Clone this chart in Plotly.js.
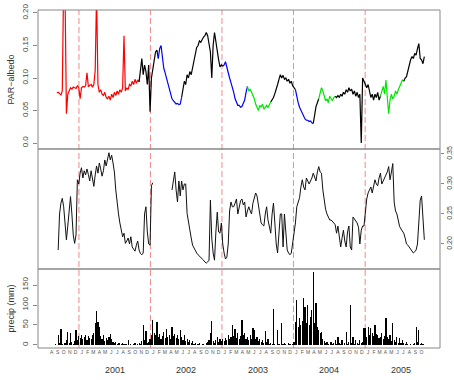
<!DOCTYPE html>
<html>
<head>
<meta charset="utf-8">
<script src="https://cdn.plot.ly/plotly-3.0.1.min.js"></script>
<style>html,body{margin:0;padding:0;background:#fff;}#chart{width:454px;height:380px;}</style>
</head>
<body>
<div id="chart"></div>
<script>
// ---- DATA (weekly samples starting 2000-09-03) ----
const seriesStart = '2000-09-03';
const stepDays = 7;

// PAR albedo (top panel)
const albedo = [
 null,0.077,0.078,0.076,0.074,0.080,0.25,0.23,0.045,0.075,
 0.080,0.085,0.083,0.086,0.085,0.084,0.088,0.085,0.068,0.085,
 0.087,0.086,0.088,0.108,0.087,0.088,0.090,0.086,0.090,0.112,
 0.23,0.090,0.078,0.082,0.075,0.073,0.078,0.070,0.068,0.072,
 0.066,0.075,0.070,0.078,0.073,0.080,0.075,0.082,0.078,0.085,
 0.165,0.080,0.085,0.082,0.090,0.088,0.095,0.090,0.098,0.092,
 0.097,0.094,0.115,0.130,0.105,0.120,0.110,0.090,0.120,0.048,
 0.100,0.115,0.130,0.140,0.143,0.130,0.145,0.150,0.130,0.115,
 0.108,0.100,0.090,0.080,0.073,0.068,0.065,0.062,0.060,0.061,
 0.059,0.060,0.070,0.080,0.095,0.090,0.105,0.100,0.110,0.105,
 0.115,0.125,0.140,0.147,0.150,0.157,0.155,0.160,0.163,0.165,
 0.170,0.165,0.155,0.140,0.100,0.150,0.170,0.155,0.135,0.128,
 0.117,0.120,0.118,0.120,0.125,0.115,0.107,0.100,0.093,0.087,
 0.078,0.068,0.063,0.058,0.058,0.055,0.056,0.060,0.066,0.078,
 0.087,0.080,0.083,0.078,0.072,0.068,0.060,0.055,0.050,0.058,
 0.055,0.060,0.052,0.055,0.058,0.055,0.060,0.063,0.066,0.070,
 0.076,0.082,0.090,0.098,0.105,0.100,0.104,0.098,0.100,0.095,
 0.098,0.092,0.095,0.088,0.085,0.082,0.070,0.062,0.055,0.050,
 0.045,0.040,0.037,0.035,0.035,0.033,0.034,0.031,0.030,0.045,
 0.056,0.062,0.068,0.077,0.085,0.080,0.070,0.065,0.068,0.062,
 0.072,0.068,0.065,0.070,0.072,0.070,0.073,0.070,0.075,0.072,
 0.078,0.075,0.082,0.078,0.085,0.080,0.083,0.075,0.080,0.072,
 0.078,0.070,0.075,0.000,0.100,0.095,0.090,0.085,0.090,0.078,
 0.070,0.075,0.066,0.075,0.070,0.078,0.066,0.072,0.078,0.087,
 0.075,0.097,0.070,0.045,0.066,0.075,0.068,0.072,0.080,0.075,
 0.082,0.087,0.090,0.097,0.095,0.100,0.102,0.112,0.118,0.128,
 0.133,0.130,0.138,0.135,0.145,0.153,0.130,0.128,0.122,0.133
];
// colour classes of the albedo record: first sample index of each run and its colour
const segStart = [1, 62, 76, 93, 123, 141, 158, 176, 189, 193, 205, 238, 255];
const segColor = ['#ff0000','#000000','#0000ff','#000000','#0000ff','#00e600','#000000','#0000ff','#000000','#00e600','#000000','#00e600','#000000'];

// middle panel (right axis)
const soil = [
 null,null,0.190,0.250,0.268,0.276,0.262,0.230,0.207,0.230,
 0.260,0.279,0.250,0.215,0.201,0.215,0.307,0.300,0.318,0.327,
 0.310,0.322,0.315,0.325,0.316,0.305,0.322,0.310,0.296,0.315,
 0.330,0.318,0.335,0.325,0.313,0.322,0.340,0.330,0.345,0.352,
 0.340,0.348,0.335,0.320,0.290,0.265,0.250,0.235,0.225,0.212,
 0.218,0.201,0.205,0.210,0.200,0.212,0.195,0.192,0.188,0.198,
 0.205,0.190,0.184,0.182,0.185,0.250,0.262,0.220,0.200,0.198,
 0.297,0.302,null,null,null,null,null,null,null,null,
 null,null,null,null,null,0.290,0.305,0.320,0.290,0.270,
 0.305,0.280,0.305,0.290,0.300,0.300,0.251,0.235,0.218,0.210,
 0.198,0.193,0.188,0.185,0.182,0.180,0.177,0.175,0.173,0.170,
 0.168,0.170,0.173,0.273,0.210,0.185,0.173,0.220,0.253,0.220,
 0.218,0.235,0.200,0.185,0.175,0.178,0.200,0.255,0.270,0.262,
 0.262,0.268,0.275,0.250,0.262,0.272,0.275,0.265,0.270,0.245,
 0.255,0.262,0.255,0.250,0.268,0.275,0.285,0.280,0.262,0.245,
 0.235,0.232,0.230,0.250,0.262,0.240,0.228,0.218,0.250,0.268,
 0.235,0.200,0.185,0.220,0.250,0.250,0.195,0.250,0.210,0.190,
 0.185,0.182,0.185,0.200,0.220,0.235,0.262,0.270,0.277,0.295,
 0.307,0.295,0.290,0.310,0.305,0.300,0.305,0.310,0.318,0.310,
 0.305,0.320,0.329,0.320,0.318,0.290,0.270,0.258,0.250,0.245,
 0.240,0.240,0.238,0.235,0.232,0.218,0.230,0.210,0.195,0.210,
 0.223,0.205,0.195,0.220,0.230,0.195,0.190,0.245,0.242,0.238,
 0.235,0.228,0.200,0.223,0.230,0.230,0.260,0.275,0.285,0.290,
 0.295,0.285,0.300,0.307,0.300,0.297,0.310,0.318,0.300,0.305,
 0.310,0.313,0.320,0.329,0.307,0.320,0.334,0.270,0.255,0.250,
 0.238,0.229,0.225,0.220,0.218,0.210,0.200,0.198,0.195,0.193,
 0.188,0.185,0.187,0.190,0.200,0.230,0.273,0.280,0.240,0.207
];

// precipitation (mm)
const precip = [
 2,0,25,5,40,3,0,5,12,33,
 4,30,8,2,10,37,12,22,18,25,
 15,20,24,12,22,18,15,25,30,55,
 85,58,45,22,15,25,10,18,12,20,
 28,15,8,5,8,3,6,4,2,5,
 3,2,2,12,0,2,0,3,6,0,
 2,4,3,10,50,12,35,5,8,15,
 25,62,30,25,58,20,28,15,22,33,
 18,40,20,25,15,45,22,28,18,25,
 15,38,20,12,25,10,15,8,12,5,
 10,3,5,0,2,4,0,3,2,0,
 5,8,12,30,60,10,5,12,20,8,
 15,10,15,10,18,12,25,15,20,50,
 22,40,18,30,15,22,62,25,30,15,
 20,12,25,15,42,38,15,20,10,15,
 8,12,5,35,8,15,3,5,2,90,
 3,0,37,2,0,54,3,5,2,0,
 4,2,0,3,8,58,112,45,67,50,
 60,117,96,55,100,50,71,87,183,54,
 104,45,37,29,33,15,10,5,8,2,
 0,8,3,4,12,3,21,5,2,12,
 0,5,33,3,8,100,5,21,3,12,
 4,2,12,5,8,42,42,20,46,25,
 42,30,22,50,28,25,18,20,29,15,
 22,67,20,15,25,10,54,12,8,21,
 5,17,4,12,6,3,8,2,0,3,
 0,2,5,46,8,37,3,4,2,0
];

// axis labels
const monthLetters = ['J','F','M','A','M','J','J','A','S','O','N','D'];
const firstMonth = [2000, 8];   // Aug 2000
const lastMonth = [2005, 10];   // Oct 2005
const years = ['2001','2002','2003','2004','2005'];
const yearBreaks = ['2001-01-01','2002-01-01','2003-01-01','2004-01-01','2005-01-01'];

// ---- BUILD ----
const t0 = Date.UTC(2000, 8, 3);
const dates = albedo.map((_, i) => new Date(t0 + i * stepDays * 86400000).toISOString().slice(0, 10));

const traces = [];
for (let k = 0; k < segStart.length; k++) {
  const from = k === 0 ? segStart[0] : segStart[k] - 1;
  const to = k < segStart.length - 1 ? segStart[k + 1] - 1 : albedo.length - 1;
  traces.push({
    type: 'scatter', mode: 'lines', xaxis: 'x', yaxis: 'y',
    x: dates.slice(from, to + 1), y: albedo.slice(from, to + 1),
    line: {color: segColor[k], width: 1.2}, hoverinfo: 'skip', showlegend: false
  });
}
traces.push({
  type: 'scatter', mode: 'lines', xaxis: 'x', yaxis: 'y2',
  x: dates, y: soil, connectgaps: false,
  line: {color: '#111', width: 1}, showlegend: false
});
traces.push({
  type: 'bar', xaxis: 'x', yaxis: 'y3',
  x: dates, y: precip, width: 6 * 86400000,
  marker: {color: '#000', line: {width: 0}}, showlegend: false
});

const tickvals = [], ticktext = [];
for (let y = firstMonth[0], m = firstMonth[1]; y < lastMonth[0] || (y === lastMonth[0] && m <= lastMonth[1]); ) {
  tickvals.push(y + '-' + String(m).padStart(2, '0') + '-15');
  ticktext.push(monthLetters[m - 1]);
  m++; if (m > 12) { m = 1; y++; }
}

const grey = '#888';
const tickFont = {family: 'Liberation Sans, Arial, sans-serif', size: 8, color: '#444'};
const shapes = [];
yearBreaks.forEach(d => shapes.push({
  type: 'line', xref: 'x', yref: 'paper', x0: d, x1: d, y0: 0, y1: 1, layer: 'below',
  line: {color: '#f08a8a', width: 1, dash: '6px,3px'}
}));
['y domain', 'y2 domain', 'y3 domain'].forEach(r => shapes.push({
  type: 'rect', xref: 'paper', yref: r, x0: 0, x1: 1, y0: 0, y1: 1,
  line: {color: grey, width: 1}, fillcolor: 'rgba(0,0,0,0)'
}));

const annotations = years.map(y => ({
  xref: 'x', yref: 'paper', x: y + '-07-02', y: -0.065, yanchor: 'middle',
  text: y, showarrow: false, font: {family: 'Liberation Sans, Arial, sans-serif', size: 9, color: '#333'}
}));

const commonY = {
  showgrid: false, zeroline: false, showline: false, ticks: 'outside', ticklen: 4,
  tickcolor: grey, tickangle: -90, tickfont: tickFont, anchor: 'x', ticklabelstandoff: 2
};

const layout = {
  width: 454, height: 380,
  margin: {l: 38, r: 14, t: 10, b: 32, pad: 0},
  paper_bgcolor: '#fff', plot_bgcolor: '#fff',
  font: {family: 'Liberation Sans, Arial, sans-serif'},
  bargap: 0,
  xaxis: {
    type: 'date', range: ['2000-06-06', '2006-01-18'], anchor: 'y3',
    tickmode: 'array', tickvals: tickvals, ticktext: ticktext, tickangle: 0,
    tickfont: {family: 'Liberation Sans, Arial, sans-serif', size: 5, color: '#555'},
    ticks: '', showgrid: false, zeroline: false, showline: false
  },
  yaxis: Object.assign({}, commonY, {
    domain: [0.5888, 1], range: [-0.0092, 0.2046],
    tickmode: 'array', tickvals: [0, 0.05, 0.10, 0.15, 0.20], ticktext: ['0.0', '0.05', '0.10', '0.15', '0.20'],
    title: {text: 'PAR\u2212albedo', font: {size: 9, color: '#333'}, standoff: 4}
  }),
  yaxis2: Object.assign({}, commonY, {
    domain: [0.2337, 0.5888], range: [0.1583, 0.3583], side: 'right',
    ticklen: 3, ticklabelstandoff: 0,
    tickfont: {family: 'Liberation Sans, Arial, sans-serif', size: 7, color: '#444'},
    tickmode: 'array', tickvals: [0.20, 0.25, 0.30, 0.35], ticktext: ['0.20', '0.25', '0.30', '0.35']
  }),
  yaxis3: Object.assign({}, commonY, {
    domain: [0, 0.2337], range: [-7.5, 190],
    tickmode: 'array', tickvals: [0, 50, 100, 150], ticktext: ['0', '50', '100', '150'],
    title: {text: 'precip (mm)', font: {size: 9, color: '#333'}, standoff: 4}
  }),
  shapes: shapes,
  annotations: annotations
};

Plotly.newPlot('chart', traces, layout, {displayModeBar: false, staticPlot: true});
</script>
</body>
</html>
